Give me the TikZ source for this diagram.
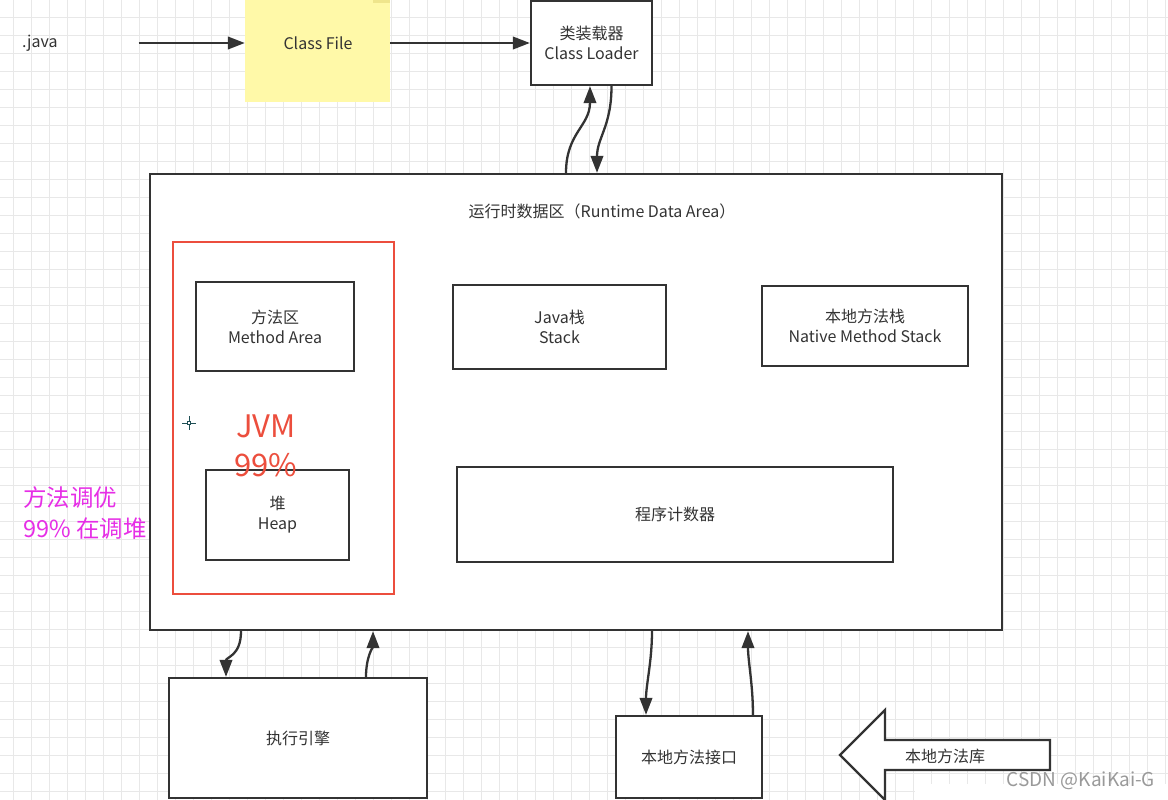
\documentclass[tikz,border=0pt]{standalone}
\usepackage{fontspec}
\setmainfont{Noto Sans CJK SC}
\usetikzlibrary{arrows.meta,calc}
\definecolor{ln}{HTML}{333333}
\definecolor{gridc}{HTML}{E8E8E8}
\definecolor{note}{HTML}{FFF9A8}
\definecolor{notetab}{HTML}{EFE58C}
\definecolor{redb}{HTML}{EC4E3D}
\definecolor{mag}{HTML}{E62EE6}
\definecolor{cur}{HTML}{1F4F55}
\tikzset{
  box/.style={draw=ln, line width=2.3pt, fill=white, text=ln, align=center, inner sep=0pt,
    font=\fontsize{16}{20}\selectfont},
  txt/.style={text=ln, align=center, inner sep=0pt, font=\fontsize{16}{20}\selectfont},
  arr/.style={draw=ln, line width=2.3pt, -{Triangle[length=17pt,width=12.5pt]}},
}
\begin{document}
\begin{tikzpicture}[x=1pt,y=-1pt]
\useasboundingbox (0,0) rectangle (1168,800);
\fill[white] (0,0) rectangle (1168,800);
% grid
\foreach \i in {0,...,64} {\draw[gridc, line width=0.8pt] (13+18*\i,0) -- (13+18*\i,800);}
\foreach \j in {0,...,44} {\draw[gridc, line width=0.8pt] (0,17.5+18*\j) -- (1168,17.5+18*\j);}
\fill[white] (915,784) rectangle (1168,800);

% top row
\node[txt, anchor=west] (java) at (22,43) {.java};
\node[fill=note, minimum width=145pt, minimum height=102pt, inner sep=0pt] (cf) at (317.5,51) {};
\fill[notetab] (373,0) rectangle (390,3);
\node[txt] (cft) at (318,43) {Class File};
\node[box, minimum width=121pt, minimum height=84pt] (cl) at (591.5,43) {类装载器\\Class Loader};
\draw[arr] ([xshift=81pt]java.east) -- (cf.west |- java.east);
\draw[arr] (cf.east |- java.east) -- (cl.west);

% runtime data area
\node[box, minimum width=852pt, minimum height=456pt] (rda) at (576,402) {};
\node[txt] (rdat) at (602,211) {运行时数据区（Runtime Data Area）};
\draw[draw=redb, line width=2.6pt] (173,242) rectangle (394,594);
\node[box, minimum width=158pt, minimum height=89pt] (ma) at (275,326.5) {方法区\\Method Area};
\node[box, minimum width=213pt, minimum height=84pt] (st) at (559.5,327) {Java栈\\Stack};
\node[box, minimum width=206pt, minimum height=80pt] (ns) at (865,326) {本地方法栈\\Native Method Stack};
\node[box, minimum width=143pt, minimum height=90pt] (hp) at (277.5,515) {堆\\Heap};
\node[box, minimum width=436pt, minimum height=95pt] (pc) at (675,514.5) {程序计数器};
\node[text=redb, align=center, inner sep=0pt, font=\fontsize{31}{39}\selectfont] (jvm) at (266,446) {JVM\\99\%};
% cursor
\draw[cur, line width=0.8pt] (182,423) -- (196,423) (189,416) -- (189,430);
\fill[white, draw=cur, line width=0.6pt] (187.5,421.5) rectangle (190.5,424.5);

% tuning note
\node[text=mag, align=left, anchor=west, inner sep=0pt, font=\fontsize{23.5}{31}\selectfont] (tune) at (23,513.5) {方法调优\\99\% 在调堆};

% class loader <-> runtime
\draw[arr] ([xshift=-10pt]rda.north) .. controls +(0,-40) and +(0,40) .. ([xshift=-1.5pt]cl.south);
\draw[arr] ([xshift=20pt]cl.south) .. controls +(0,40) and +(0,-35) .. ([xshift=21pt]rda.north);

% bottom
\node[box, minimum width=258pt, minimum height=120pt] (ee) at (298,738) {执行引擎};
\node[box, minimum width=146pt, minimum height=82pt] (nmi) at (689,757) {本地方法接口};
\draw[arr] ([xshift=-335pt]rda.south) .. controls +(0,25) and +(0,-20) .. ([xshift=-72pt]ee.north);
\draw[arr] ([xshift=68pt]ee.north) .. controls +(0,-20) and +(0,15) .. ([xshift=-203pt]rda.south);
\draw[arr] ([xshift=76pt]rda.south) .. controls +(0,30) and +(0,-30) .. ([xshift=-43pt]nmi.north);
\draw[arr] ([xshift=64pt]nmi.north) .. controls +(0,-30) and +(0,30) .. ([xshift=172pt]rda.south);

% native library arrow
\draw[ln, line width=2.3pt, fill=white, line join=miter] (840,755) -- (885,710) -- (885,740) -- (1050,740) -- (1050,770) -- (885,770) -- (885,800) -- cycle;
\node[txt] (nlib) at (945,756) {本地方法库};

% watermark
\node[text=black!40, inner sep=0pt, font=\fontsize{19}{22}\selectfont] (wm) at (1081,781) {CSDN @KaiKai-G};
\end{tikzpicture}
\end{document}
